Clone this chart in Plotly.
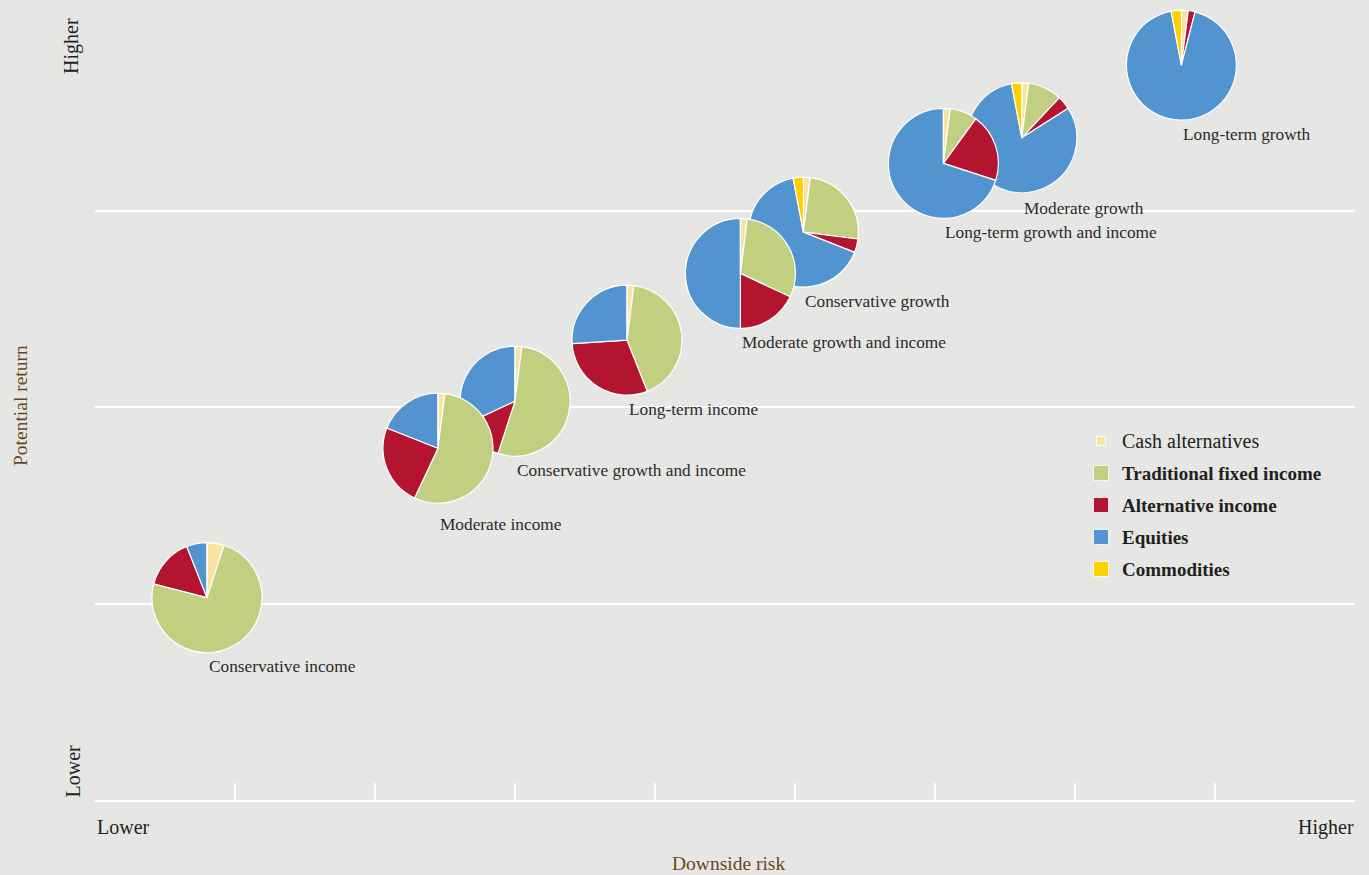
import plotly.graph_objects as go

# ---------------- data ----------------
portfolios = [
    "Conservative income", "Moderate income", "Conservative growth and income",
    "Long-term income", "Moderate growth and income", "Conservative growth",
    "Long-term growth and income", "Moderate growth", "Long-term growth",
]
risk = [0.80, 2.45, 3.00, 3.80, 4.61, 5.06, 6.06, 6.62, 7.76]        # downside risk (axis units)
potential = [1.03, 1.79, 2.03, 2.34, 2.68, 2.89, 3.24, 3.37, 3.74]   # potential return (axis units)

asset_classes = ["Cash alternatives", "Traditional fixed income", "Alternative income",
                 "Equities", "Commodities"]
cash = [5, 2, 2, 2, 2, 2, 2, 2, 2]
fixed_income = [74, 55, 53, 42, 30, 25, 8, 10, 0]
alt_income = [15, 24, 13, 30, 18, 4, 20, 4, 2]
equities = [6, 19, 32, 26, 50, 66, 70, 81, 93]
commodities = [0, 0, 0, 0, 0, 3, 0, 3, 3]

x_ticks = list(range(0, 10))
y_grid = [0, 1, 2, 3, 4]

# ---------------- styling ----------------
colors = ["#f8e4a0", "#c1cf81", "#b31531", "#5194d0", "#fdd000"]
BG = "#e6e6e4"
BROWN = "#6b4619"
DARK = "#231f20"
FONT = "Liberation Serif"

W, H = 1369, 875
PX_L, PX_R = 95, 1355      # pixel extent of x axis
PX_B, PX_T = 800, 14       # pixel extent of y axis
XR = (0, 9)
YR = (0, 4)
R = 55                     # pie radius in px
label_shift = [-69, -76, -69, -69, -69, -69, -69, -71, -69]   # label offset below pie centre (px)


def px_x(v):
    return PX_L + (v - XR[0]) / (XR[1] - XR[0]) * (PX_R - PX_L)


def px_y(v):
    return PX_B - (v - YR[0]) / (YR[1] - YR[0]) * (PX_B - PX_T)


fig = go.Figure()

# pies (right-most first so left ones overlap them)
for i in reversed(range(len(portfolios))):
    cx, cy = px_x(risk[i]), px_y(potential[i])
    vals = [cash[i], fixed_income[i], alt_income[i], equities[i], commodities[i]]
    fig.add_trace(go.Pie(
        labels=asset_classes, values=vals, name=portfolios[i],
        sort=False, direction="clockwise", rotation=0,
        marker=dict(colors=colors, line=dict(color="white", width=1.2)),
        textinfo="none", showlegend=False,
        domain=dict(x=[(cx - R) / W, (cx + R) / W],
                    y=[1 - (cy + R) / H, 1 - (cy - R) / H]),
    ))

# legend swatches (custom)
leg_x = (1101 - PX_L) / 140.0
leg_y0 = (PX_B - 441) / 196.5
leg_dy = 32 / 196.5
leg_ys = [leg_y0 - k * leg_dy for k in range(len(asset_classes))]
fig.add_trace(go.Scatter(
    x=[leg_x] * len(asset_classes), y=leg_ys, mode="markers",
    marker=dict(symbol="square", size=[9, 15, 15, 15, 15], color=colors, opacity=1,
                line=dict(color="white", width=0.8)),
    hoverinfo="skip", showlegend=False,
))

annotations = []
# pie labels
for i, name in enumerate(portfolios):
    annotations.append(dict(
        x=risk[i], y=potential[i], xref="x", yref="y", text=name,
        showarrow=False, xanchor="left", yanchor="middle", yshift=label_shift[i],
        font=dict(family=FONT, size=17.3, color="#2b2b2b"),
    ))

# legend text
leg_text_x = (1120 - PX_L) / 140.0
for k, lab in enumerate(asset_classes):
    annotations.append(dict(
        x=leg_text_x, y=leg_ys[k], xref="x", yref="y",
        text=lab if k == 0 else "<b>" + lab + "</b>",
        showarrow=False, xanchor="left", yanchor="middle",
        font=dict(family=FONT, size=20 if k == 0 else 19, color=DARK),
    ))

# axis end labels and titles
def pap(px, py):
    return px / W, 1 - py / H

for txt, (px, py), ang, xa in [
    ("Lower", (95, 827), 0, "left"),
    ("Higher", (1356, 827), 0, "right"),
]:
    xx, yy = pap(px, py)
    annotations.append(dict(x=xx, y=yy, xref="paper", yref="paper", text=txt,
                            showarrow=False, xanchor=xa, yanchor="middle", textangle=ang,
                            font=dict(family=FONT, size=20, color=DARK)))

xx, yy = pap(72, 16)
annotations.append(dict(x=xx, y=yy, xref="paper", yref="paper", text="Higher",
                        showarrow=False, xanchor="center", yanchor="top", textangle=-90,
                        font=dict(family=FONT, size=20, color=DARK)))
xx, yy = pap(72, 800)
annotations.append(dict(x=xx, y=yy, xref="paper", yref="paper", text="Lower",
                        showarrow=False, xanchor="center", yanchor="bottom", textangle=-90,
                        font=dict(family=FONT, size=20, color=DARK)))
xx, yy = pap(20, 406)
annotations.append(dict(x=xx, y=yy, xref="paper", yref="paper", text="Potential return",
                        showarrow=False, xanchor="center", yanchor="middle", textangle=-90,
                        font=dict(family=FONT, size=19.5, color=BROWN)))
xx, yy = pap(728, 863)
annotations.append(dict(x=xx, y=yy, xref="paper", yref="paper", text="Downside risk",
                        showarrow=False, xanchor="center", yanchor="middle",
                        font=dict(family=FONT, size=19.5, color=BROWN)))

fig.update_layout(
    width=W, height=H,
    margin=dict(l=0, r=0, t=0, b=0, pad=0),
    paper_bgcolor=BG, plot_bgcolor=BG,
    showlegend=False,
    annotations=annotations,
    xaxis=dict(domain=[PX_L / W, PX_R / W], range=list(XR), tickvals=x_ticks,
               showticklabels=False, showgrid=False, zeroline=False,
               showline=True, linecolor="white", linewidth=2,
               ticks="inside", ticklen=17, tickwidth=2, tickcolor="white",
               fixedrange=True),
    yaxis=dict(domain=[1 - PX_B / H, 1 - PX_T / H], range=list(YR), tickvals=y_grid,
               showticklabels=False, showgrid=True, gridcolor="white", gridwidth=2,
               zeroline=False, showline=False, fixedrange=True),
)

fig.write_html("out.html",
               config={"displayModeBar": False},
               post_script="document.body.style.margin='0';document.body.style.overflow='hidden';")
